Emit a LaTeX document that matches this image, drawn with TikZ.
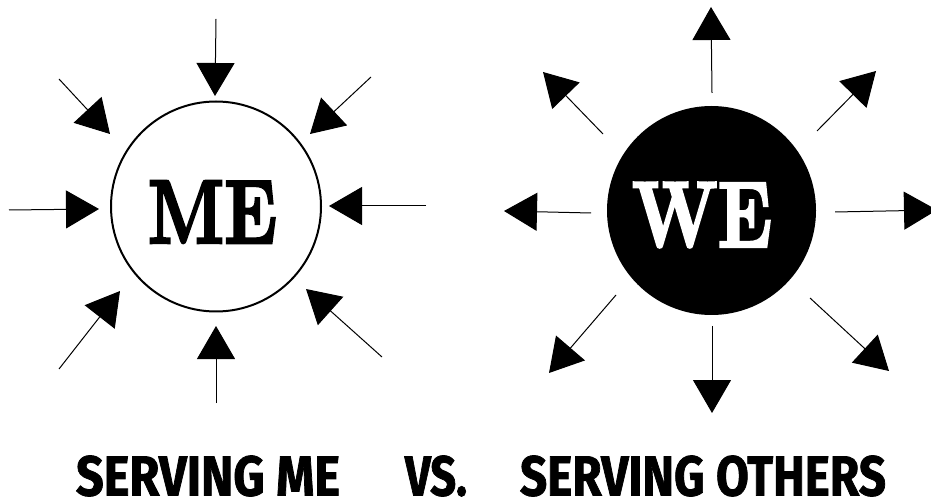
\documentclass[tikz,border=0pt]{standalone}
\usepackage{graphicx}
\usepackage{fontspec}
\newfontfamily\labelfont{Fira Sans}[BoldFeatures={FakeBold=1.5}]
\newfontfamily\headfont{Latin Modern Roman}[BoldFeatures={FakeBold=3}]
\usetikzlibrary{arrows.meta}
\tikzset{
  ray/.style={line width=1pt, -{Triangle[length=33pt,width=38pt]}},
  caption/.style={inner sep=0pt, font=\labelfont\bfseries},
}
\begin{document}
\begin{tikzpicture}[x=1pt,y=-1pt]
\useasboundingbox (0,0) rectangle (931,502);
% ME circle
\node[circle, draw, line width=2pt, minimum size=210pt, inner sep=0pt] (me) at (216,206.5) {};
\node[inner sep=0pt] (metext) at (212.5,212) {\resizebox{129pt}{62pt}{\headfont\bfseries ME}};
% WE circle
\node[circle, fill=black, minimum size=209pt, inner sep=0pt] (we) at (711.5,210.5) {};
\node[inner sep=0pt, text=white] (wetext) at (702,215) {\resizebox{140pt}{64pt}{\headfont\bfseries WE}};
% ME inward arrows
\coordinate (m1s) at (216,19);  \coordinate (m1t) at (215,96);
\coordinate (m2s) at (59,79);   \coordinate (m2t) at (110,134);
\coordinate (m3s) at (371,77);  \coordinate (m3t) at (310,134);
\coordinate (m4s) at (9,210);   \coordinate (m4t) at (99,209);
\coordinate (m5s) at (426,206); \coordinate (m5t) at (329,206);
\coordinate (m6s) at (59,369);  \coordinate (m6t) at (120,291);
\coordinate (m7s) at (216,403); \coordinate (m7t) at (216,326);
\coordinate (m8s) at (382,357); \coordinate (m8t) at (306,289);
\foreach \i in {1,...,8} { \draw[ray] (m\i s) -- (m\i t); }
% WE outward arrows
\coordinate (w1s) at (712,93);  \coordinate (w1t) at (711,7);
\coordinate (w2s) at (603,134); \coordinate (w2t) at (543,72);
\coordinate (w3s) at (817,131); \coordinate (w3t) at (876,71);
\coordinate (w4s) at (591,213); \coordinate (w4t) at (504,211);
\coordinate (w5s) at (835,212); \coordinate (w5t) at (937,210);
\coordinate (w6s) at (616,295); \coordinate (w6t) at (549,373);
\coordinate (w7s) at (712,326); \coordinate (w7t) at (712,413);
\coordinate (w8s) at (810,298); \coordinate (w8t) at (889,371);
\foreach \i in {1,...,8} { \draw[ray] (w\i s) -- (w\i t); }
% captions
\node[caption] (cap1) at (208,476) {\resizebox{264pt}{40pt}{SERVING ME}};
\node[caption] (cap2) at (436,476) {\resizebox{62pt}{40pt}{VS.}};
\node[caption] (cap3) at (703,476) {\resizebox{366pt}{40pt}{SERVING OTHERS}};
\end{tikzpicture}
\end{document}
